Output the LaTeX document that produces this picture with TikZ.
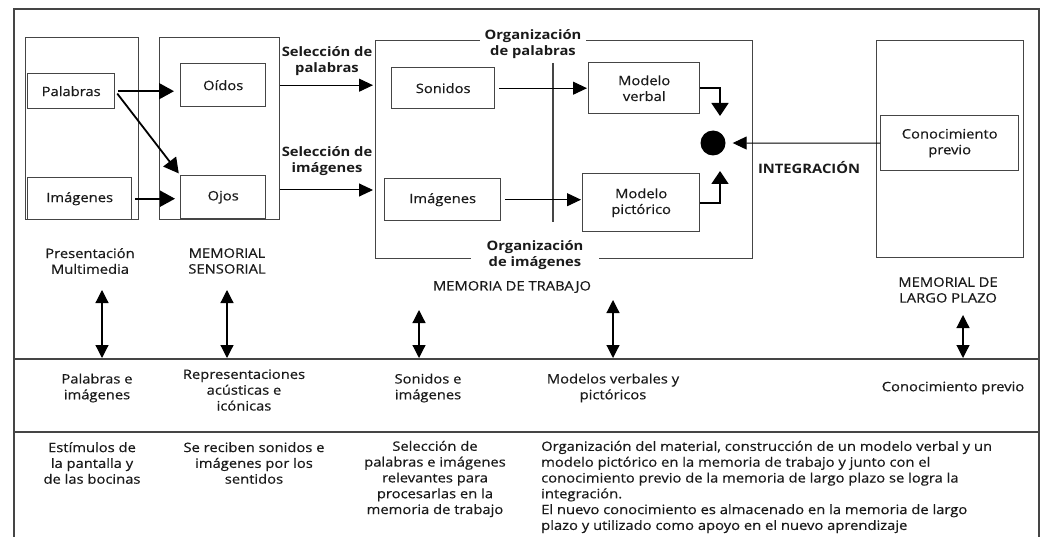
\documentclass[tikz,border=0pt]{standalone}
\usepackage{fontspec}
\setmainfont{Open Sans}[FakeStretch=1.135, UprightFeatures={FakeBold=0.5}]
\usetikzlibrary{arrows.meta, positioning}
\definecolor{colorL}{HTML}{454545}
\definecolor{colorT}{HTML}{1A1A1A}
\tikzset{
  box/.style={draw=colorL, line width=1.4pt, anchor=north west, inner sep=0pt,
    text=colorT, font=\fontsize{13}{15.8}\selectfont, align=center},
  lbl/.style={text=colorT, font=\fontsize{13}{15.8}\selectfont, align=center, inner sep=0pt},
  blbl/.style={text=colorT, font=\fontsize{13}{15.8}\selectfont\bfseries, align=center, inner sep=0pt},
  bigarr/.style={line width=1.8pt, -{Triangle[length=15pt,width=16pt]}},
  selarr/.style={line width=1pt, -{Triangle[length=14pt,width=13pt]}},
  elbarr/.style={line width=1.8pt, -{Triangle[length=13pt,width=17pt]}},
  dblarr/.style={line width=1.2pt, {Triangle[length=13pt,width=13pt]}-{Triangle[length=13pt,width=13pt]}}
}
\begin{document}
\begin{tikzpicture}[x=1pt, y=-1pt]
    \useasboundingbox (0,0) rectangle (1040,537);

    % frame and rows
    \draw[colorL, line width=1.5pt] (14,537) -- (14,9) -- (1039,9) -- (1039,537);
    \draw[colorL, line width=1.5pt] (14,359) -- (1039,359);
    \draw[colorL, line width=1.5pt] (14,432) -- (1039,432);

    \begin{scope}
        \node[box, minimum width=113pt, minimum height=182pt] (pres) at (25,37) {};
        \node[box, minimum width=87pt, minimum height=35pt] (palabras) at (27,73) {Palabras};
        \node[box, minimum width=104pt, minimum height=42pt] (imgA) at (27,177) {Imágenes};

        \node[box, minimum width=120pt, minimum height=182pt] (sens) at (159,37) {};
        \node[box, minimum width=85pt, minimum height=43pt] (oidos) at (180,63) {Oídos};
        \node[box, minimum width=85pt, minimum height=43pt] (ojos) at (180,175) {Ojos};

        \draw[bigarr, shorten <=3pt, shorten >=6pt] (palabras.east) -- (palabras.east -| oidos.west);
        \draw[bigarr, shorten <=3pt, shorten >=2pt] (palabras.east) -- (ojos.north west);
        \draw[bigarr, shorten <=3pt, shorten >=5pt] (imgA.east) -- (imgA.east -| ojos.west);
    \end{scope}

    \begin{scope}
        \node[box, minimum width=377pt, minimum height=218pt] (wm) at (375,40) {};
        \node[box, minimum width=103pt, minimum height=41pt] (sonidos) at (391,67) {Sonidos};
        \node[box, minimum width=116pt, minimum height=42pt] (imgB) at (384,178) {Imágenes};
        \node[box, minimum width=111pt, minimum height=51pt] (verbal) at (588,62) {Modelo\\verbal};
        \node[box, minimum width=117pt, minimum height=58pt] (pict) at (582,173) {Modelo\\pictórico};
        \coordinate (divtop) at (553,63);
        \coordinate (divbot) at (553,222);
        \draw[colorL, line width=1.4pt] (divtop) -- (divbot);
        \node[circle, fill=black, minimum size=25pt, inner sep=0pt] (dot) at (713,143) {};
        \coordinate (vtip) at (720,116);
        \coordinate (ptip) at (720,171);

        \node[blbl, fill=white, inner xsep=5pt] (orgpal) at (533,44) {Organización\\de palabras};
        \node[blbl, fill=white, inner xsep=16pt] (orgimg) at (535,255) {Organización\\de imágenes};

        \draw[selarr, shorten <=4pt, shorten >=1pt] (sonidos.east) -- (sonidos.east -| verbal.west);
        \draw[selarr, shorten <=4pt, shorten >=1pt] (imgB.east) -- (imgB.east -| pict.west);
        \draw[elbarr] (verbal.east) -| (vtip);
        \draw[elbarr] (pict.east) -| (ptip);
    \end{scope}

    \begin{scope}
        \node[box, minimum width=147pt, minimum height=217pt] (ltm) at (876,40) {};
        \node[box, minimum width=138pt, minimum height=55pt] (conoc) at (880,115) {Conocimiento\\previo};
        \draw[selarr, shorten >=7pt] (conoc.west) -- (dot.east);
        \node[blbl] (integ) at (809,168) {INTEGRACIÓN};
    \end{scope}

    \node[blbl] (selpal) at (327,61) {Selección de\\palabras};
    \node[blbl] (selimg) at (327,161) {Selección de\\imágenes};
    \coordinate (imgy) at (0,190);
    \draw[selarr, shorten >=2pt] (sens.east |- oidos) -- (wm.west |- oidos);
    \draw[selarr, shorten >=2pt] (sens.east |- imgy) -- (wm.west |- imgy);

    \node[lbl] (presl) at (90,261) {Presentación\\Multimedia};
    \node[lbl] (sensl) at (227,261) {MEMORIAL\\SENSORIAL};
    \node[lbl] (wml) at (512,287) {MEMORIA DE TRABAJO};
    \node[lbl] (ltml) at (948,290) {MEMORIAL DE\\LARGO PLAZO};

    \coordinate (rowA) at (0,358);
    \coordinate (upA) at (102,290);
    \coordinate (upB) at (227,290);
    \coordinate (upC) at (419,310);
    \coordinate (upD) at (613,300);
    \coordinate (upE) at (963,315);
    \foreach \u in {upA, upB, upC, upD, upE}
        \draw[dblarr] (\u) -- (\u |- rowA);

    \node[lbl] (rowAa) at (97,388) {Palabras e\\imágenes};
    \node[lbl] (rowAb) at (244,390) {Representaciones\\acústicas e\\icónicas};
    \node[lbl] (rowAc) at (428,388) {Sonidos e\\imágenes};
    \node[lbl] (rowAd) at (613,388) {Modelos verbales y\\pictóricos};
    \node[lbl] (rowAe) at (953,388) {Conocimiento previo};

    \node[lbl] (rowBa) at (92,463) {Estímulos de\\la pantalla y\\de las bocinas};
    \node[lbl] (rowBb) at (254,463) {Se reciben sonidos e\\imágenes por los\\sentidos};
    \node[lbl] (rowBc) at (435,479) {Selección de\\palabras e imágenes\\relevantes para\\procesarlas en la\\memoria de trabajo};
    \node[lbl, anchor=west, align=left] (rowBd) at (541,487) {Organización del material, construcción de un modelo verbal y un\\modelo pictórico en la memoria de trabajo y junto con el\\conocimiento previo de la memoria de largo plazo se logra la\\integración.\\El nuevo conocimiento es almacenado en la memoria de largo\\plazo y utilizado como apoyo en el nuevo aprendizaje};
\end{tikzpicture}
\end{document}
